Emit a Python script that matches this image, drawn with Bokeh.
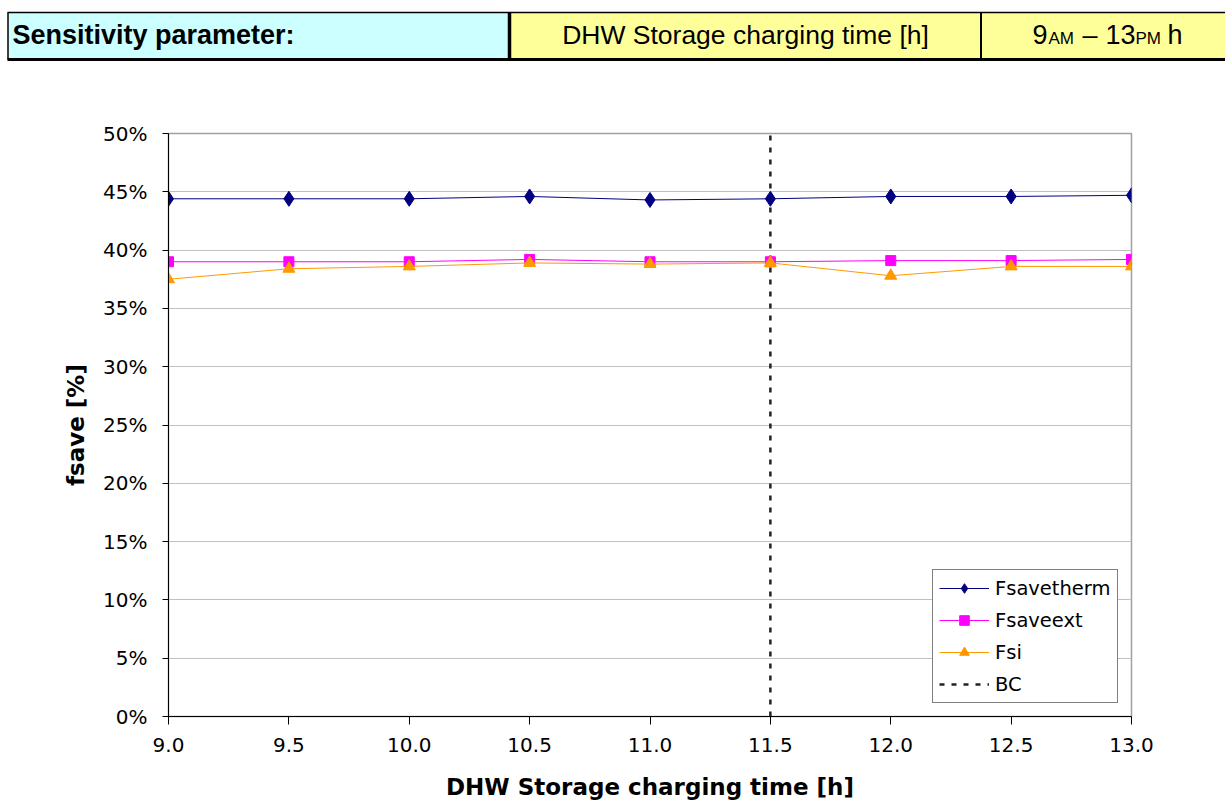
from bokeh.plotting import figure
from bokeh.layouts import column
from bokeh.models import FixedTicker, PrintfTickFormatter, Legend, LegendItem, Range1d
from bokeh.core.properties import value
from bokeh.embed import file_html
from bokeh.resources import INLINE

# ---------------- data ----------------
charging_time = [9.0, 9.5, 10.0, 10.5, 11.0, 11.5, 12.0, 12.5, 13.0]
fsavetherm = [44.4, 44.4, 44.4, 44.6, 44.3, 44.4, 44.6, 44.6, 44.7]
fsaveext = [39.0, 39.0, 39.0, 39.2, 39.0, 39.0, 39.1, 39.1, 39.2]
fsi = [37.5, 38.4, 38.6, 38.9, 38.8, 38.9, 37.8, 38.6, 38.6]
bc_time = 11.5
y_ticks = [0, 5, 10, 15, 20, 25, 30, 35, 40, 45, 50]
x_ticks = [9.0, 9.5, 10.0, 10.5, 11.0, 11.5, 12.0, 12.5, 13.0]

header_param = "Sensitivity parameter:"
header_name = "DHW Storage charging time [h]"

W = 1225
HH = 62
FONT = "DejaVu Sans"
HFONT = "Liberation Sans"

# ---------------- header ----------------
h = figure(width=W, height=HH, x_range=Range1d(0, W), y_range=Range1d(0, HH),
           output_backend="svg", toolbar_location=None,
           min_border=0, min_border_left=0, min_border_right=0,
           min_border_top=0, min_border_bottom=0)
h.frame_align = False
h.axis.visible = False
h.grid.visible = False
h.outline_line_color = None
h.background_fill_color = "white"
h.border_fill_color = "white"

top, bot = HH - 12, HH - 59
h.quad(left=[8, 508, 980], right=[508, 980, W], bottom=[bot] * 3, top=[top] * 3,
       fill_color=["#CCFFFF", "#FFFF99", "#FFFF99"], line_color=None)
h.segment(x0=[7], y0=[top], x1=[W], y1=[top], line_color="black", line_width=1.5)
h.segment(x0=[7], y0=[bot], x1=[W], y1=[bot], line_color="black", line_width=3)
h.segment(x0=[7.5], y0=[bot], x1=[7.5], y1=[top], line_color="black", line_width=1.5)
h.segment(x0=[509], y0=[bot], x1=[509], y1=[top], line_color="black", line_width=3.5)
h.segment(x0=[980.5], y0=[bot], x1=[980.5], y1=[top], line_color="black", line_width=2)

base, sub = HH - 34.3, HH - 37.7
h.text(x=[12], y=[base], text=[header_param], text_font=value(HFONT), text_font_style="bold",
       text_font_size="27px", text_align="left", text_baseline="alphabetic", text_color="black")
h.text(x=[745], y=[base], text=[header_name], text_font=value(HFONT),
       text_font_size="26.5px", text_align="center", text_baseline="alphabetic", text_color="black")
# "9AM – 13PM h" with subscripts
h.text(x=[1032, 1082, 1105, 1167], y=[base] * 4, text=["9", "–", "13", "h"],
       text_font=value(HFONT), text_font_size="27px", text_align="left",
       text_baseline="alphabetic", text_color="black")
h.text(x=[1048, 1135], y=[sub] * 2, text=["AM", "PM"],
       text_font=value(HFONT), text_font_size="17px", text_align="left",
       text_baseline="alphabetic", text_color="black")

# ---------------- main chart ----------------
p = figure(width=W, height=740, x_range=Range1d(9.0, 13.0), y_range=Range1d(0, 50),
           output_backend="svg", toolbar_location=None,
           min_border_left=168, min_border_right=94, min_border_top=71, min_border_bottom=86)
p.frame_align = False
p.background_fill_color = "white"
p.border_fill_color = "white"
p.outline_line_color = "#A0A0A0"
p.outline_line_width = 1.5

p.xgrid.visible = False
p.ygrid.grid_line_color = "#C0C0C0"
p.ygrid.grid_line_width = 1

p.yaxis.ticker = FixedTicker(ticks=y_ticks)
p.yaxis.formatter = PrintfTickFormatter(format="%d%%")
p.xaxis.ticker = FixedTicker(ticks=x_ticks)
p.xaxis.formatter = PrintfTickFormatter(format="%.1f")

for ax in (p.xaxis[0], p.yaxis[0]):
    ax.axis_line_color = "black"
    ax.axis_line_width = 1
    ax.major_tick_line_color = "black"
    ax.major_tick_in = 0
    ax.minor_tick_line_color = None
    ax.major_label_text_font = FONT
    ax.major_label_text_font_size = "20px"
    ax.major_label_text_color = "black"
    ax.axis_label_text_font = FONT
    ax.axis_label_text_font_style = "bold"
    ax.axis_label_text_font_size = "23px"
    ax.axis_label_text_color = "black"

p.xaxis.major_tick_out = 8
p.yaxis.major_tick_out = 6
p.xaxis.axis_label = "DHW Storage charging time [h]"
p.yaxis.axis_label = "fsave [%]"
p.xaxis.major_label_standoff = 13
p.yaxis.major_label_standoff = 15
p.xaxis.axis_label_standoff = 19
p.yaxis.axis_label_standoff = 11

# BC line
bc = p.line(x=[bc_time, bc_time], y=[y_ticks[0], y_ticks[-1]], line_color="#222222",
            line_width=2.5, line_dash="5 7")

l1 = p.line(charging_time, fsavetherm, line_color="#000080", line_width=1)
m1 = p.scatter(charging_time, fsavetherm, marker="diamond", size=15,
               fill_color="#000080", line_color="#000080")
l2 = p.line(charging_time, fsaveext, line_color="#FF00FF", line_width=1)
m2 = p.scatter(charging_time, fsaveext, marker="square", size=10,
               fill_color="#FF00FF", line_color="#FF00FF")
l3 = p.line(charging_time, fsi, line_color="#FF9900", line_width=1)
m3 = p.scatter(charging_time, fsi, marker="triangle", size=12,
               fill_color="#FF9900", line_color="#FF9900")

legend = Legend(items=[
    LegendItem(label="Fsavetherm", renderers=[l1, m1]),
    LegendItem(label="Fsaveext", renderers=[l2, m2]),
    LegendItem(label="Fsi", renderers=[l3, m3]),
    LegendItem(label="BC", renderers=[bc]),
], location=(764, 13))
legend.label_text_font = FONT
legend.label_text_font_size = "19.5px"
legend.label_text_color = "black"
legend.glyph_width = 50
legend.glyph_height = 24
legend.label_height = 24
legend.label_standoff = 6
legend.spacing = 8
legend.padding = 6
legend.margin = 0
legend.border_line_color = "black"
legend.border_line_width = 1
legend.background_fill_color = "white"
legend.background_fill_alpha = 1
p.add_layout(legend)

layout = column(h, p, spacing=0)
open("out.html", "w").write(file_html(layout, INLINE))
